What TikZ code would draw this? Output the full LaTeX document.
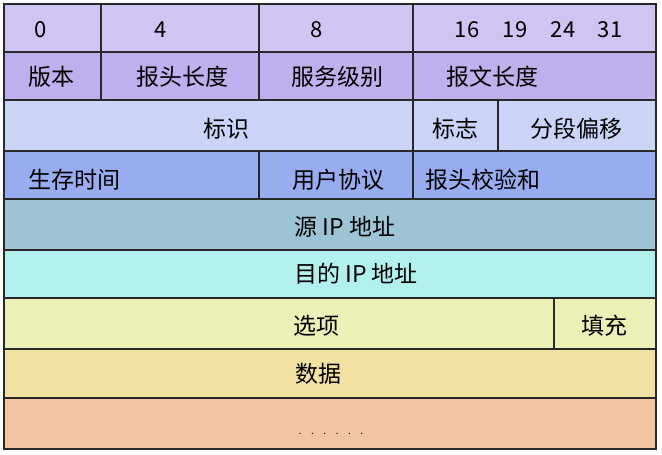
\documentclass[tikz,border=0pt]{standalone}
\usepackage{fontspec}
\setmainfont{Noto Sans CJK SC}
\definecolor{rA}{RGB}{208,197,242}
\definecolor{rB}{RGB}{190,176,236}
\definecolor{rC}{RGB}{202,212,246}
\definecolor{rD}{RGB}{152,172,240}
\definecolor{rE}{RGB}{157,195,212}
\definecolor{rF}{RGB}{178,240,238}
\definecolor{rG}{RGB}{235,240,182}
\definecolor{rH}{RGB}{242,226,162}
\definecolor{rI}{RGB}{241,197,162}
\definecolor{ln}{RGB}{40,40,40}
\begin{document}
\begin{tikzpicture}[x=1pt,y=-1pt,
  sep/.style={draw=ln, line width=1.1pt},
  frame/.style={draw=ln, line width=1.6pt},
  lbl/.style={font=\fontsize{23}{26}\selectfont, inner sep=0pt, text=black},
  num/.style={font=\fontsize{22}{25}\selectfont, inner sep=0pt, text=black}]
\useasboundingbox (0,0) rectangle (662,455);
\fill[white] (0,0) rectangle (662,455);
% row backgrounds
\fill[rA] (4,4) rectangle (656,52);
\fill[rB] (4,52) rectangle (656,100);
\fill[rC] (4,100) rectangle (656,151);
\fill[rD] (4,151) rectangle (656,199);
\fill[rE] (4,199) rectangle (656,250);
\fill[rF] (4,250) rectangle (656,298);
\fill[rG] (4,298) rectangle (656,349);
\fill[rH] (4,349) rectangle (656,398);
\fill[rI] (4,398) rectangle (656,449);
% horizontal separators
\foreach \y in {52,100,151,199,250,298,349,398}
  \draw[sep] (4,\y) -- (656,\y);
% vertical separators
\draw[sep] (101,4) -- (101,100);
\draw[sep] (259,4) -- (259,100);
\draw[sep] (413,4) -- (413,199);
\draw[sep] (498,100) -- (498,151);
\draw[sep] (259,151) -- (259,199);
\draw[sep] (554,298) -- (554,349);
% outer frame
\draw[frame] (4,4) rectangle (656,449);
% row 1: bit positions
\node[num] (b0) at (41,30) {0};
\node[num] (b4) at (161,30) {4};
\node[num] (b8) at (317,30) {8};
\node[num] (b16) at (467,30) {16};
\node[num] (b19) at (515,30) {19};
\node[num] (b24) at (563,30) {24};
\node[num] (b31) at (610,30) {31};
% row 2
\node[lbl] (ver) at (51,77) {版本};
\node[lbl] (ihl) at (182,77) {报头长度};
\node[lbl] (tos) at (337,77) {服务级别};
\node[lbl, anchor=west] (len) at (446,77) {报文长度};
% row 3
\node[lbl] (id) at (226,129) {标识};
\node[lbl] (flg) at (455,129) {标志};
\node[lbl] (off) at (576,129) {分段偏移};
% row 4
\node[lbl, anchor=west] (ttl) at (28,180) {生存时间};
\node[lbl, anchor=west] (pro) at (292,180) {用户协议};
\node[lbl, anchor=west] (chk) at (425,180) {报头校验和};
% rows 5-9
\node[lbl] (src) at (345,227) {源 IP 地址};
\node[lbl] (dst) at (356,274) {目的 IP 地址};
\node[lbl] (opt) at (316,326) {选项};
\node[lbl] (pad) at (604,326) {填充};
\node[lbl] (dat) at (318,374) {数据};
\node[font=\fontsize{10}{12}\selectfont, inner sep=0pt] (more) at (331,434)
  {.\kern9.5pt.\kern9.5pt.\kern9.5pt.\kern9.5pt.\kern9.5pt.};
\end{tikzpicture}
\end{document}
